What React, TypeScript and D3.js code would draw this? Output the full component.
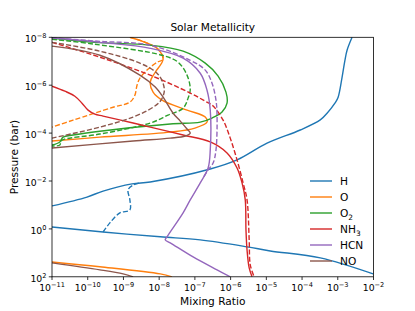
import React from "react";
import * as d3 from "d3";

// values are [log10 mixing ratio, log10 pressure(bar)]
const hSolidUpper = [[-2.6, -8], [-2.74, -7.46], [-2.8, -7.04], [-2.88, -6.33], [-2.99, -5.5], [-3.08, -5.25], [-3.3, -4.83], [-3.49, -4.55], [-4.05, -4.13], [-4.98, -3.58], [-5.82, -2.88], [-6.57, -2.5], [-8.25, -1.96], [-8.76, -1.88], [-9.57, -1.58], [-10.02, -1.33], [-11, -0.96]];
const hSolidLower = [[-11, -0.08], [-9.57, 0.13], [-7.97, 0.33], [-6.85, 0.46], [-5.54, 0.75], [-4.89, 0.92], [-3.49, 1.21], [-2.01, 1.88]];
const hDashed = [[-9.57, 0.13], [-9.38, -0.25], [-9.1, -0.67], [-8.82, -0.79], [-8.82, -1.21], [-8.87, -1.63], [-8.73, -1.83], [-8.54, -1.92]];

const oSolid = [[-8.82, -8], [-8.39, -7.79], [-8.03, -7.5], [-7.89, -7.08], [-8.11, -6.54], [-8.25, -6.13], [-8.17, -5.71], [-7.92, -5.38], [-7.22, -4.96], [-6.71, -4.67], [-6.66, -4.46], [-7.0, -4.21], [-7.69, -4.04], [-9.66, -3.83], [-11, -3.67]];
const oSolidLower = [[-11, 1.38], [-9.66, 1.58], [-7.97, 1.88], [-7.64, 2.0]];
const oDashed = [[-8.82, -8], [-8.39, -7.79], [-8.03, -7.5], [-7.89, -7.08], [-8.06, -6.96], [-8.34, -6.63], [-8.54, -6.29], [-8.62, -6.0], [-8.68, -5.58], [-8.82, -5.29], [-9.29, -5.08], [-10.41, -4.54], [-11, -4.25]];

const o2Solid = [[-11, -7.96], [-9.8, -7.79], [-8.25, -7.67], [-7.33, -7.42], [-6.71, -6.92], [-6.35, -6.38], [-6.13, -5.71], [-6.1, -5.25], [-6.24, -4.88], [-6.52, -4.63], [-6.85, -4.46], [-7.69, -4.38], [-9.66, -4.08], [-10.41, -3.92], [-10.69, -3.83], [-10.78, -3.63], [-11, -3.5]];
const o2Dashed = [[-11, -7.92], [-9.8, -7.71], [-7.92, -7.25], [-7.47, -6.96], [-7.22, -6.42], [-7.13, -5.83], [-7.19, -5.46], [-7.33, -5.04], [-7.75, -4.75], [-8.25, -4.42], [-9.66, -3.96], [-10.64, -3.75], [-10.75, -3.67], [-10.78, -3.5], [-11, -3.46]];

const nh3Solid = [[-11, -5.96], [-10.64, -5.75], [-10.36, -5.54], [-10.16, -5.25], [-9.99, -4.96], [-9.8, -4.79], [-9.57, -4.71], [-8.73, -4.42], [-8.25, -4.25], [-7.33, -3.92], [-6.57, -3.63], [-6.1, -3.17], [-5.82, -2.54], [-5.68, -1.92], [-5.59, -1.21], [-5.57, 0.04], [-5.54, 0.88], [-5.48, 1.63], [-5.4, 2.0]];
const nh3Dashed = [[-11, -7.79], [-9.66, -7.17], [-8.25, -6.42], [-7.13, -5.67], [-6.71, -5.33], [-6.49, -5.13], [-6.21, -4.54], [-6.01, -3.79], [-5.82, -2.88], [-5.65, -1.92], [-5.54, -1.21], [-5.48, 0.46], [-5.45, 1.5], [-5.34, 2.0]];

const hcnSolid = [[-11, -7.98], [-9.66, -7.79], [-8.25, -7.54], [-7.33, -7.13], [-6.85, -6.5], [-6.66, -5.79], [-6.57, -4.96], [-6.57, -3.29], [-6.63, -2.54], [-6.85, -1.92], [-7.13, -1.21], [-7.33, -0.67], [-7.78, 0.33], [-7.83, 0.46], [-7.69, 0.58], [-7.05, 1.17], [-6.38, 1.71], [-6.01, 2.0]];
const hcnDashed = [[-11, -7.98], [-9.66, -7.83], [-8.25, -7.67], [-7.13, -7.04], [-6.71, -6.63], [-6.52, -6.08], [-6.41, -5.38], [-6.38, -4.75], [-6.41, -3.29], [-6.49, -2.75], [-6.63, -2.46], [-6.77, -2.13]];

const noSolid = [[-11, -7.63], [-9.66, -7.25], [-8.54, -6.42], [-8.11, -5.92], [-7.89, -5.5], [-7.61, -4.83], [-7.41, -4.5], [-7.22, -4.17], [-7.13, -4.0], [-7.27, -3.88], [-7.69, -3.79], [-8.73, -3.67], [-11, -3.38]];
const noSolidLower = [[-11, 1.42], [-9.66, 1.71], [-9.01, 1.88], [-8.73, 2.0]];
const noDashed = [[-11, -7.79], [-9.66, -7.42], [-8.54, -6.92], [-8.06, -6.5], [-7.89, -6.08], [-7.86, -5.71], [-7.97, -5.33], [-8.17, -5.08], [-8.73, -4.67], [-9.66, -4.25], [-11, -3.79]];

const speciesLabels = [["H", ""], ["O", ""], ["O", "2"], ["NH", "3"], ["HCN", ""], ["NO", ""]];
const colors = ["#1f77b4", "#ff7f0e", "#2ca02c", "#d62728", "#9467bd", "#8c564b"];

const xTickExps = [-11, -10, -9, -8, -7, -6, -5, -4, -3, -2];
const yTickExps = [-8, -6, -4, -2, 0, 2];

// which series, which colour index, dashed or not (draw order: dashed after solid per species)
const lines = [
  { data: hSolidUpper, c: 0, dash: false },
  { data: hSolidLower, c: 0, dash: false },
  { data: hDashed, c: 0, dash: true },
  { data: oSolid, c: 1, dash: false },
  { data: oSolidLower, c: 1, dash: false },
  { data: oDashed, c: 1, dash: true },
  { data: o2Solid, c: 2, dash: false },
  { data: o2Dashed, c: 2, dash: true },
  { data: nh3Solid, c: 3, dash: false },
  { data: nh3Dashed, c: 3, dash: true },
  { data: hcnSolid, c: 4, dash: false },
  { data: hcnDashed, c: 4, dash: true },
  { data: noSolid, c: 5, dash: false },
  { data: noSolidLower, c: 5, dash: false },
  { data: noDashed, c: 5, dash: true },
];

const W = 415;
const H = 311;
const L = 52, R = 373.5, T = 37.3, B = 276.8;
const font = "DejaVu Sans, sans-serif";

export default function App() {
  const x = d3.scaleLog().domain([1e-11, 1e-2]).range([L, R]);
  const y = d3.scaleLog().domain([1e-8, 1e2]).range([T, B]);
  const line = d3
    .line<number[]>()
    .x((d) => x(Math.pow(10, d[0])))
    .y((d) => y(Math.pow(10, d[1])))
    .curve(d3.curveCatmullRom.alpha(0.5));

  return (
    <svg width={W} height={H} style={{ position: "absolute", left: 0, top: 0, background: "#fff" }} fontFamily={font}>
      <defs>
        <clipPath id="plot">
          <rect x={L} y={T} width={R - L} height={B - T} />
        </clipPath>
      </defs>
      <g clipPath="url(#plot)">
        {lines.map((l, i) => (
          <path key={i} d={line(l.data) || ""} fill="none" stroke={colors[l.c]} strokeWidth={1.4}
            strokeDasharray={l.dash ? "5,2.2" : undefined} strokeLinejoin="round" />
        ))}
      </g>
      <rect x={L} y={T} width={R - L} height={B - T} fill="none" stroke="#000" strokeWidth={0.8} />
      {xTickExps.map((e) => (
        <g key={e} transform={`translate(${x(Math.pow(10, e))},${B})`}>
          <line y2={3.2} stroke="#000" strokeWidth={0.8} />
          <text y={14} textAnchor="middle" fontSize={9.3}>
            10<tspan fontSize={6.6} dy={-4}>{"\u2212" + Math.abs(e)}</tspan>
          </text>
        </g>
      ))}
      {yTickExps.map((e) => (
        <g key={e} transform={`translate(${L},${y(Math.pow(10, e))})`}>
          <line x2={-3.2} stroke="#000" strokeWidth={0.8} />
          <text x={-5.5} y={5} textAnchor="end" fontSize={9.3}>
            10<tspan fontSize={6.6} dy={-4}>{e < 0 ? "\u2212" + Math.abs(e) : String(e)}</tspan>
          </text>
        </g>
      ))}
      <text x={(L + R) / 2} y={31} textAnchor="middle" fontSize={10.6}>Solar Metallicity</text>
      <text x={(L + R) / 2} y={305} textAnchor="middle" fontSize={10.6}>Mixing Ratio</text>
      <text transform={`translate(18,${(T + B) / 2}) rotate(-90)`} textAnchor="middle" fontSize={10.6}>Pressure (bar)</text>
      {speciesLabels.map((s, i) => {
        const yy = 181 + i * 16;
        return (
          <g key={i}>
            <line x1={310} x2={332} y1={yy} y2={yy} stroke={colors[i]} strokeWidth={1.4} />
            <text x={340} y={yy + 4} fontSize={10.6}>
              {s[0]}
              {s[1] && <tspan fontSize={7.4} dy={2.5}>{s[1]}</tspan>}
            </text>
          </g>
        );
      })}
    </svg>
  );
}
